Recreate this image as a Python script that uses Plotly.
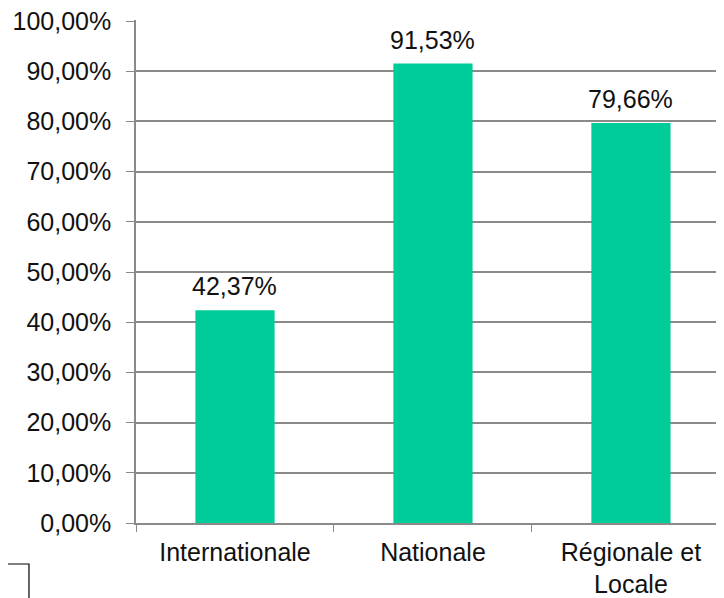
import plotly.graph_objects as go

categories = ["Internationale", "Nationale", "Régionale et<br>Locale"]
values = [0.4237, 0.9153, 0.7966]
label_texts = ["42,37%", "91,53%", "79,66%"]
y_ticks = [0.0, 0.1, 0.2, 0.3, 0.4, 0.5, 0.6, 0.7, 0.8, 0.9, 1.0]

bar_color = "#00CC99"
grid_color = "#8a8a8a"
font_family = "Liberation Sans, Arial, sans-serif"
font_size = 25

# The page body has an 8px default margin, so the figure is sized to fit.
fig = go.Figure()
fig.add_trace(go.Bar(
    x=categories, y=values, width=0.4,
    marker=dict(color=bar_color, line=dict(width=0)),
    hoverinfo="skip",
))

for c, v, t in zip(categories, values, label_texts):
    fig.add_annotation(x=c, y=v, text=t, showarrow=False, yanchor="middle",
                       yshift=24, font=dict(size=font_size, color="#111111", family=font_family))

fig.add_shape(type="rect", xref="paper", yref="paper",
              x0=-0.3, x1=-0.182, y0=-0.2, y1=-0.0815,
              line=dict(color="#000000", width=1.2), fillcolor="rgba(0,0,0,0)")

fig.update_layout(
    width=716, height=590,
    margin=dict(l=128, r=0, t=12, b=75),
    paper_bgcolor="white", plot_bgcolor="white",
    separators=", ",
    showlegend=False,
    font=dict(family=font_family, size=font_size, color="#111111"),
    xaxis=dict(
        range=[-0.5, 2.47],
        showgrid=False, showline=True, linecolor=grid_color, linewidth=1.5,
        ticks="outside", tickson="boundaries", ticklen=7, tickcolor=grid_color,
        tickwidth=1.2, tickfont=dict(size=font_size), ticklabelstandoff=6,
        automargin=False, ticklabeloverflow="allow",
    ),
    yaxis=dict(
        range=[0, 1.002], tickformat=".2%", tickmode="array", tickvals=y_ticks,
        showgrid=True, gridcolor=grid_color, gridwidth=1.5,
        showline=True, linecolor=grid_color, linewidth=1.5,
        ticks="outside", ticklen=8, tickcolor=grid_color, tickwidth=1.2,
        tickfont=dict(size=font_size), ticklabelstandoff=10,
        zeroline=False, automargin=False, ticklabeloverflow="allow",
    ),
)

fig.write_html("out.html")
